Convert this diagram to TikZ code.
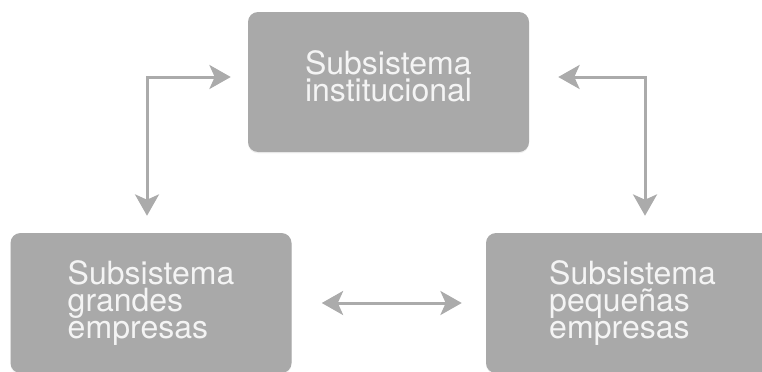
\documentclass[tikz,border=0pt]{standalone}
\usepackage{fontspec}
\setmainfont{TeX Gyre Heros}
\usepackage{xcolor}
\usetikzlibrary{arrows.meta,positioning,shadows}
\definecolor{boxgray}{HTML}{A9A9A9}
\definecolor{arrowgray}{HTML}{ABABAB}
\definecolor{labelwhite}{HTML}{F4F4F4}

\begin{document}
\begin{tikzpicture}[x=0.75pt, y=-0.75pt,
    subbox/.style={fill=boxgray, rounded corners=7.5pt, minimum width=210.75pt, minimum height=105pt, inner sep=0pt, align=left, text=labelwhite, font=\fontsize{24}{20.25}\selectfont, drop shadow={opacity=0.12, shadow xshift=0pt, shadow yshift=-1pt}},
    link/.style={draw=arrowgray, line width=2.25pt, {Stealth[length=16pt,width=18pt,inset=4pt]}-{Stealth[length=16pt,width=18pt,inset=4pt]}}]
    \useasboundingbox (0,0) rectangle (762,371);
    \clip (0,0) rectangle (762,371);
    \node[subbox] (inst) at (388.5,82) {Subsistema\\institucional\rule[-9pt]{0pt}{9pt}};
    \node[subbox] (grandes) at (151,303) {Subsistema\\grandes\\empresas};
    \node[subbox, minimum width=219.75pt] (pequenas) at (632.5,303) {Subsistema\\pequeñas\\empresas};

    \draw[link, shorten <=12.75pt, shorten >=12.75pt] ([yshift=3.75pt]inst.west) -| ([xshift=-3pt]grandes.north);
    \draw[link, shorten <=21.75pt, shorten >=12.75pt] ([yshift=3.75pt]inst.east) -| ([xshift=9.375pt]pequenas.north);
    \draw[link, shorten <=22.5pt, shorten >=18pt] (grandes.east) -- (pequenas.west);
\end{tikzpicture}
\end{document}
